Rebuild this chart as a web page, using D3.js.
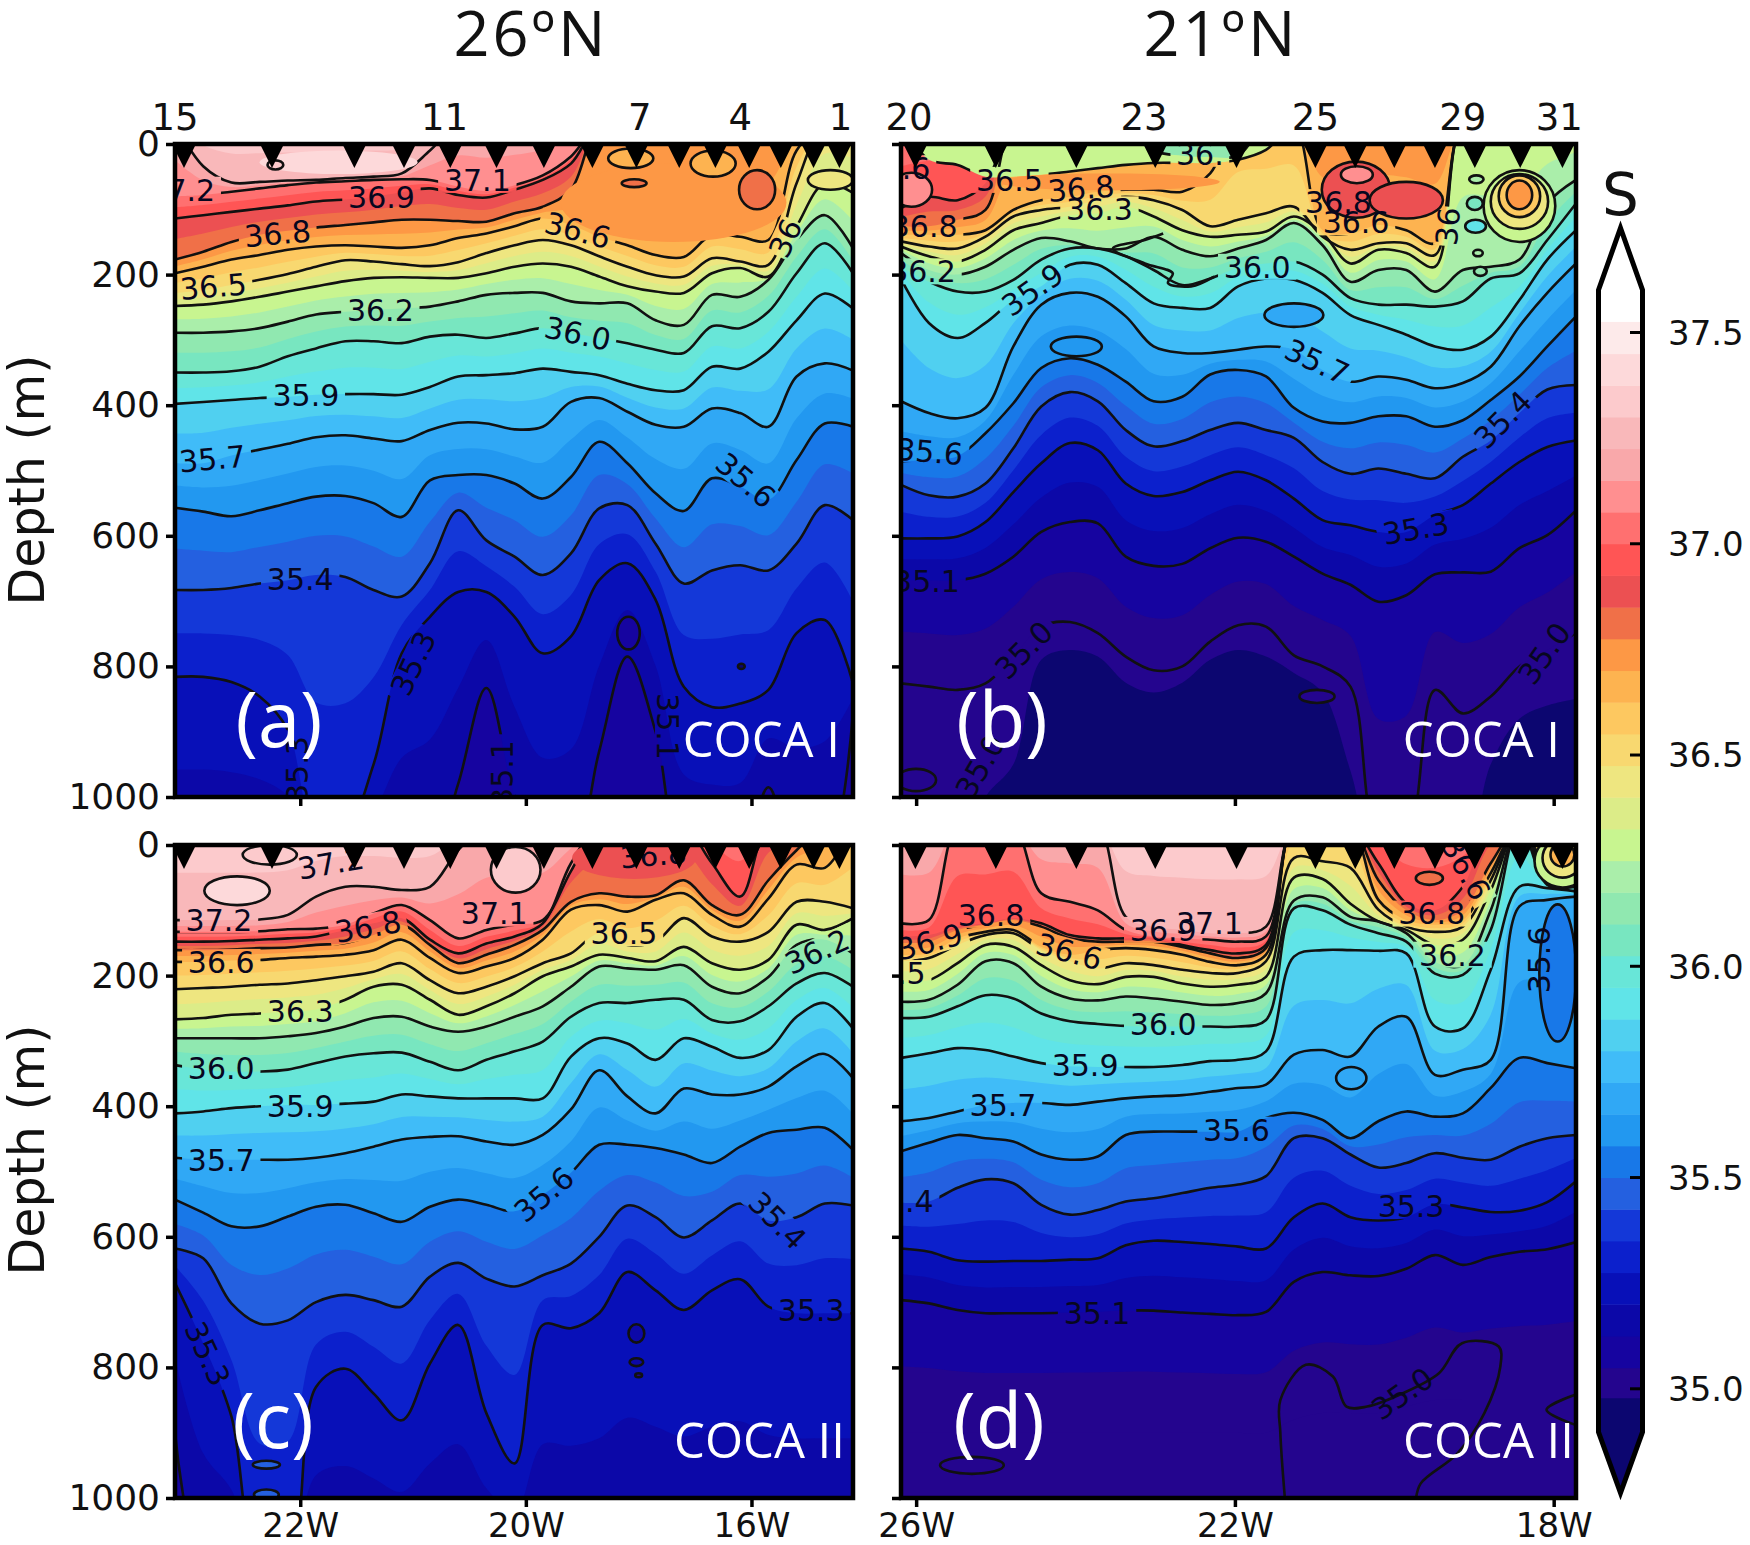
<!DOCTYPE html>
<html>
<head>
<meta charset="utf-8">
<script src="https://cdn.jsdelivr.net/npm/d3@7"></script>
<style>
    html, body { margin: 0; padding: 0; background: #fff; }
    text { font-family: "DejaVu Sans", sans-serif; fill: #111; }
</style>
</head>
<body>
<div id="chart"></div>
<script>
// S = contour has outcropped above the surface, D = contour lies below the section floor
const S = -30;
const D = 1100;

// Colour bands, 0.075 wide, starting below 34.975
const bandColors = ['#0c0670', '#24058e', '#1604a0', '#0c08a8', '#0810b8', '#0c20cc', '#1438d8', '#2460e0',
    '#1878e8', '#2298f0', '#30a8f5', '#40bcf8', '#50d0f0', '#60e4e8', '#68e6d8', '#78e6c0', '#90e8b0', '#aaeeaa',
    '#c8f590', '#dcec88', '#eee680', '#f8d870', '#fdc860', '#fdb350', '#fd9845', '#f07048', '#ec5052', '#ff5555',
    '#ff7070', '#ff8f90', '#f9a8aa', '#f9b8ba', '#fccacc', '#fdd9da', '#fdeaea'];
const bandStart = 34.975;
const bandStep = 0.075;

// Columns of the sections (longitude, negative = W)
const lonsAC = [-23.11, -22.86, -22.61, -22.36, -22.11, -21.86, -21.6, -21.35, -21.1, -20.85, -20.6, -20.35, -20.1,
    -19.85, -19.6, -19.35, -19.1, -18.85, -18.6, -18.35, -18.1, -17.85, -17.6, -17.35, -17.1];
const lonsBD = [-26.19, -25.84, -25.48, -25.13, -24.78, -24.43, -24.07, -23.72, -23.37, -23.02, -22.66, -22.31, -21.96,
    -21.61, -21.26, -20.9, -20.55, -20.2, -19.85, -19.49, -19.14, -18.79, -18.43, -18.08, -17.72];

// Depth of each contour in each column. Rows run 34.975, 35.125 ... 37.225
const depthsA = [
    [1400, 1400, 1400, 1400, 1400, 1400, 1400, 1400, 1400, 1400, 1400, 1400, 1400, 1400, 1400, 1400, 1400, 1400, 1400, 1400, 1400, 1400, 1400, 1400, 1400],
    [D, D, D, D, D, D, D, D, D, D, 980, 833, 1000, D, D, 930, 785, 900, D, D, D, 985, D, D, 870],
    [816, 816, 824, 846, 897, 1050, 1050, 950, 780, 724, 686, 686, 724, 780, 754, 668, 642, 698, 831, 862, 857, 836, 749, 729, 826],
    [683, 683, 680, 673, 668, 660, 663, 683, 693, 642, 561, 607, 632, 660, 627, 558, 553, 612, 673, 653, 645, 653, 612, 553, 576],
    [557, 563, 570, 561, 550, 540, 539, 550, 571, 515, 507, 507, 520, 543, 510, 456, 489, 535, 562, 512, 525, 545, 484, 428, 433],
    [489, 489, 477, 468, 459, 449, 446, 451, 455, 438, 427, 428, 437, 433, 395, 389, 410, 430, 433, 405, 412, 433, 356, 336, 347],
    [398, 395, 392, 389, 387, 384, 383, 383, 384, 372, 356, 354, 351, 344, 349, 354, 367, 377, 377, 341, 344, 318, 270, 229, 252],
    [350, 350, 348, 341, 325, 313, 302, 302, 305, 295, 292, 297, 290, 282, 290, 297, 305, 315, 320, 279, 282, 257, 198, 152, 198],
    [289, 289, 287, 282, 272, 261, 257, 254, 252, 249, 241, 231, 228, 228, 241, 244, 244, 270, 277, 231, 234, 208, 147, 109, 160],
    [248, 246, 241, 234, 226, 218, 210, 205, 204, 205, 205, 198, 188, 183, 188, 203, 218, 226, 228, 198, 190, 203, 126, 60, 75],
    [228, 224, 216, 208, 199, 188, 178, 180, 184, 187, 181, 167, 155, 147, 155, 172, 188, 201, 203, 175, 180, 185, 60, S, S],
    [198, 188, 177, 170, 162, 157, 155, 157, 159, 155, 144, 137, 126, 114, 124, 142, 155, 170, 173, 139, 142, 147, 10, S, S],
    [177, 165, 150, 139, 133, 128, 124, 120, 116, 116, 118, 119, 106, 96, 70, S, S, S, S, S, S, S, S, S, S],
    [114, 109, 104, 99, 94, 88, 85, 81, 74, 68, 78, 82, 70, 55, 30, S, S, S, S, S, S, S, S, S, S],
    [80, 78, 73, 68, 63, 59, 57, 55, 54, 55, 65, 72, 63, 48, 19, S, S, S, S, S, S, S, S, S, S],
    [S, 34, 59, 58, 56, 55, 52, 50, 45, 10, S, S, S, S, S, S, S, S, S, S, S, S, S, S, S]
];
const depthsB = [
    [826, 831, 836, 826, 785, 739, 732, 749, 785, 806, 800, 762, 737, 739, 783, 800, 831, 1060, 1060, 836, 872, 846, 800, 775, 749],
    [668, 668, 668, 658, 632, 594, 579, 581, 632, 646, 643, 619, 603, 609, 632, 658, 675, 701, 691, 659, 656, 655, 619, 599, 561],
    [604, 604, 601, 579, 533, 489, 458, 469, 520, 539, 533, 515, 502, 515, 543, 576, 584, 594, 594, 568, 553, 520, 487, 464, 454],
    [522, 538, 540, 520, 466, 402, 380, 394, 438, 463, 455, 438, 427, 438, 450, 487, 505, 497, 505, 512, 479, 454, 412, 376, 369],
    [486, 483, 478, 443, 397, 343, 328, 338, 364, 394, 387, 353, 346, 356, 404, 425, 427, 417, 417, 433, 423, 392, 356, 310, 264],
    [394, 412, 420, 404, 310, 246, 228, 234, 264, 310, 320, 320, 315, 310, 315, 346, 364, 356, 361, 374, 366, 341, 279, 228, 183],
    [206, 274, 297, 274, 239, 218, 185, 185, 213, 244, 251, 251, 218, 206, 208, 228, 262, 277, 292, 310, 315, 295, 239, 177, 132],
    [188, 211, 226, 226, 208, 177, 160, 160, 172, 193, 216, 206, 190, 183, 180, 200, 236, 246, 246, 249, 241, 206, 198, 147, 91],
    [167, 193, 200, 188, 162, 144, 149, 160, 160, 142, 162, 172, 160, 147, 121, 155, 211, 193, 193, 226, 193, 188, 177, 91, 55],
    [157, 172, 180, 162, 132, 121, 109, 106, 96, 111, 132, 142, 139, 134, 111, 137, 183, 162, 167, 188, S, S, S, S, S],
    [149, 157, 160, 142, 111, 101, 96, 86, 81, 86, 101, 126, 116, 106, 96, 142, 162, 152, 152, 170, S, S, S, S, S],
    [139, 139, 139, 132, 101, 86, 81, 73, 70, 70, 73, 45, S, S, S, 132, 137, 124, 132, 152, S, S, S, S, S],
    [126, 126, 116, 101, S, S, S, S, S, S, S, S, S, S, S, S, S, S, S, S, S, S, S, S, S],
    [98, 81, 86, 60, S, S, S, S, S, S, S, S, S, S, S, S, S, S, S, S, S, S, S, S, S]
];
// Where the darkest colour starts in panel b, well under the 35.0 contour
const floorEdgeB = [D, D, D, 1000, 950, 790, 775, 785, 825, 840, 825, 790, 775, 785, 810, 840, 960, D, D, D, D, 950, 880, 860, 850];
const depthsC = [
    [1400, 1400, 1400, 1400, 1400, 1400, 1400, 1400, 1400, 1400, 1400, 1400, 1400, 1400, 1400, 1400, 1400, 1400, 1400, 1400, 1400, 1400, 1400, 1400, 1400],
    [900, D, D, D, D, D, D, D, D, D, D, D, D, D, D, D, D, D, D, D, D, D, D, D, D],
    [671, 763, 875, D, D, 830, 802, 840, 881, 794, 735, 870, 947, 735, 740, 717, 654, 682, 712, 682, 665, 707, 717, 717, 717],
    [618, 633, 702, 733, 728, 700, 689, 697, 707, 661, 640, 664, 676, 659, 641, 600, 552, 570, 601, 575, 549, 575, 570, 549, 552],
    [543, 563, 584, 584, 569, 554, 551, 564, 577, 554, 543, 551, 561, 536, 502, 459, 459, 464, 474, 487, 462, 441, 436, 433, 467],
    [479, 482, 482, 482, 482, 479, 472, 462, 451, 447, 446, 454, 459, 444, 405, 345, 385, 411, 373, 382, 382, 370, 339, 320, 357],
    [411, 408, 403, 400, 398, 398, 396, 393, 382, 385, 388, 388, 388, 388, 324, 296, 304, 329, 296, 309, 326, 314, 263, 242, 281],
    [337, 344, 347, 347, 344, 334, 324, 319, 318, 332, 345, 329, 316, 301, 263, 242, 242, 237, 237, 268, 270, 247, 212, 196, 217],
    [296, 296, 296, 296, 293, 288, 278, 265, 263, 278, 286, 278, 263, 247, 217, 186, 189, 191, 184, 217, 227, 202, 153, 145, 166],
    [267, 265, 260, 258, 255, 252, 237, 217, 214, 237, 260, 247, 227, 201, 186, 168, 173, 178, 156, 181, 191, 176, 122, 130, 112],
    [221, 219, 217, 214, 212, 207, 201, 194, 181, 207, 227, 217, 201, 181, 166, 135, 153, 148, 112, 140, 148, 133, 87, 87, 97],
    [179, 179, 177, 176, 173, 171, 168, 161, 145, 173, 196, 186, 173, 145, 99, 92, 102, 84, 74, 107, 125, 82, 30, 35, S],
    [161, 161, 160, 158, 157, 153, 150, 138, 122, 153, 181, 168, 153, 130, 87, 74, 79, 77, 54, 92, 107, 54, 8, S, S],
    [148, 148, 147, 145, 143, 140, 130, 120, 112, 145, 166, 151, 140, 120, 28, S, S, S, S, 28, 79, S, S, S, S],
    [133, 133, 133, 132, 129, 128, 122, 105, 92, 115, 143, 130, 122, 115, 40, S, S, S, S, S, S, S, S, S, S],
    [115, 115, 115, 114, 107, 79, 64, 64, 69, 64, 8, S, S, S, S, S, S, S, S, S, S, S, S, S, S]
];
const depthsD = [
    [900, 900, 900, 900, 900, 900, 900, 900, 900, 900, 900, 900, 900, 900, 880, 870, 870, 870, 860, 850, 850, 850, 850, 850, 850],
    [697, 702, 712, 717, 717, 717, 716, 715, 713, 713, 716, 718, 720, 715, 669, 654, 659, 660, 649, 628, 643, 631, 623, 619, 608],
    [618, 623, 636, 638, 637, 637, 635, 633, 613, 606, 608, 611, 615, 618, 570, 549, 570, 575, 570, 550, 555, 562, 560, 547, 515],
    [548, 546, 525, 512, 518, 551, 566, 559, 546, 541, 533, 525, 520, 507, 449, 449, 474, 494, 487, 472, 479, 482, 462, 449, 444],
    [469, 456, 444, 449, 454, 474, 482, 477, 444, 439, 439, 439, 439, 418, 410, 421, 449, 423, 408, 416, 411, 372, 326, 334, 342],
    [423, 418, 408, 398, 395, 395, 398, 393, 388, 385, 383, 378, 372, 367, 321, 314, 324, 278, 263, 352, 344, 329, 94, 84, 79],
    [326, 319, 311, 314, 324, 334, 339, 340, 340, 340, 337, 331, 329, 316, 171, 161, 161, 162, 166, 278, 281, 191, 64, 66, 71],
    [265, 263, 247, 230, 235, 258, 270, 274, 277, 278, 278, 278, 278, 268, 97, 100, 122, 135, 148, 197, 199, 130, S, 61, 64],
    [240, 237, 214, 178, 181, 217, 235, 238, 232, 235, 240, 245, 242, 227, 85, 80, 110, 117, 135, 179, 184, 100, S, 51, 54],
    [209, 207, 181, 153, 156, 184, 207, 213, 202, 202, 212, 217, 214, 202, 50, 52, 90, 117, 130, 153, 145, 69, S, 43, 46],
    [178, 173, 153, 138, 135, 161, 178, 189, 181, 184, 191, 196, 196, 178, 20, 25, 35, 99, 125, 133, 125, 54, S, 33, 38],
    [168, 166, 143, 133, 130, 156, 168, 161, 158, 161, 168, 179, 184, 168, S, S, S, 84, 115, 122, 115, 43, S, S, 28],
    [150, 148, 130, 122, 115, 125, 143, 148, 148, 148, 156, 166, 173, 158, S, S, S, 54, 100, 115, 100, 28, S, S, S],
    [140, 138, 125, 120, 112, 120, 138, 143, 143, 143, 153, 161, 166, 153, S, S, S, 28, 89, 100, 64, S, S, S, S],
    [120, 115, S, S, S, 74, 87, 100, 130, 140, 143, 145, 148, 140, S, S, S, S, S, S, S, S, S, S, S],
    [S, S, S, S, S, S, S, S, 110, 125, 130, 135, 135, 125, S, S, S, S, S, S, S, S, S, S, S]
];

// Fresher surface layers lying over saltier water: [band, depth per column]
const capsB = [
    [18, [S, 24, 32, 50, 50, 47, 42, 37, 32, 29, 29, 29, 24, 9, S, S, S, S, S, S, S, S, S, S, S]],
    [16, [S, S, S, S, S, S, S, S, S, 10, 18, 20, 18, S, S, S, S, S, S, S, S, S, S, S, S]]
];

// Closed features: [lon, depth, half width in degrees, half height in m, band, outlined]
const patchesA = [
    [-18.69, 90, 1.0, 60, 24, 0],
    [-21.66, 28, 0.7, 18, 33, 0], [-22.22, 32, 0.07, 7, 32, 1], [-19.07, 22, 0.2, 15, 23, 1], [-19.04, 60, 0.11, 6, 25, 1],
    [-18.34, 30, 0.2, 20, 23, 1], [-17.95, 70, 0.16, 30, 25, 1], [-17.3, 55, 0.2, 15, 20, 1],
    [-19.09, 749, 0.1, 25, 2, 1], [-18.09, 800, 0.03, 4, 0, 1]
];
const patchesB = [
    [-23.59, 58, 1.4, 13, 24, 0],
    [-20.48, 70, 0.43, 43, 26, 1], [-19.85, 86, 0.46, 28, 26, 1], [-20.47, 47, 0.2, 13, 29, 1], [-26.06, 70, 0.26, 26, 29, 1],
    [-23.99, 310, 0.32, 15, 9, 1], [-21.26, 262, 0.37, 18, 10, 1],
    [-18.43, 95, 0.45, 55, 18, 1], [-18.43, 88, 0.36, 42, 20, 1], [-18.43, 80, 0.26, 32, 22, 1], [-18.43, 78, 0.16, 22, 24, 1],
    [-18.97, 54, 0.09, 6, 17, 1], [-18.99, 91, 0.1, 10, 15, 1], [-18.98, 126, 0.13, 10, 13, 1], [-18.95, 167, 0.06, 5, 17, 1], [-18.92, 195, 0.08, 7, 16, 1],
    [-20.97, 846, 0.22, 10, 1, 1], [-26.0, 974, 0.25, 17, 1, 1]
];
const patchesC = [
    [-19.04, 20, 0.55, 32, 26, 0],
    [-22.56, 70, 0.29, 22, 33, 1], [-22.27, 15, 0.24, 15, 32, 1], [-20.09, 38, 0.22, 35, 32, 1],
    [-19.02, 748, 0.07, 14, 3, 1], [-19.02, 792, 0.06, 6, 3, 1], [-19.0, 812, 0.03, 3, 1, 1],
    [-22.3, 949, 0.12, 6, 7, 1], [-22.3, 995, 0.11, 8, 7, 1]
];
const patchesD = [
    [-19.56, 51, 0.17, 10, 25, 1], [-20.54, 357, 0.19, 17, 10, 1], [-17.95, 196, 0.23, 105, 8, 1], [-25.3, 950, 0.4, 13, 1, 1],
    [-17.89, 25, 0.35, 40, 18, 1], [-17.89, 20, 0.25, 30, 20, 1], [-17.89, 15, 0.15, 18, 23, 1]
];

// Contour pieces that fold back on themselves and so cannot be a depth per column: [lon, depth]
const extraLinesB = [
    [[-22.9, 137], [-23.13, 147], [-23.53, 160], [-23.13, 183], [-22.78, 198], [-22.84, 213], [-22.55, 218], [-22.26, 203]]
];
const extraLinesD = [
    [[-21.37, 1005], [-21.43, 900], [-21.43, 850], [-21.11, 796], [-20.77, 814], [-20.6, 860], [-20.34, 860], [-19.9, 840], [-19.44, 809], [-19.15, 763],
        [-18.69, 768], [-18.67, 799], [-18.87, 870], [-19.21, 932], [-19.67, 978], [-19.73, 1005]],
    [[-17.73, 842], [-18.09, 865], [-17.73, 888]]
];

// Contour labels: [lon, depth, text, angle]
const labelsA = [
    [-20.43, 55, '37.1', 0], [-21.28, 81, '36.9', 0], [-22.2, 137, '36.8', -5], [-19.54, 132, '36.6', 15], [-22.77, 218, '36.5', -5],
    [-21.29, 254, '36.2', 0], [-19.54, 290, '36.0', 12], [-21.95, 384, '35.9', 0], [-22.78, 482, '35.7', -5], [-18.05, 515, '35.6', 40],
    [-22.0, 667, '35.4', 0], [-21.0, 795, '35.3', -65], [-18.74, 892, '35.1', 90], [-20.21, 964, '35.1', -90], [-22.03, 958, '35.3', -90],
    [-17.7, 144, '36', -65], [-23.05, 70, '37.2', 0]
];
const labelsB = [
    [-26.24, 37, '36.6', 0], [-24.83, 55, '36.5', 0], [-23.93, 68, '36.8', -5], [-23.7, 100, '36.3', 0], [-22.44, 15, '36.', 0],
    [-25.9, 126, '36.8', 0], [-25.92, 195, '36.2', 0], [-24.54, 223, '35.9', -35], [-21.72, 188, '36.0', 0], [-20.7, 89, '36.8', 0],
    [-20.48, 120, '36.6', 0], [-19.33, 126, '36', -85], [-20.97, 333, '35.7', 25], [-18.64, 422, '35.4', -45], [-25.83, 471, '35.6', 5],
    [-19.73, 589, '35.3', -10], [-25.87, 670, '35.1', 0], [-24.65, 775, '35.0', -45], [-18.12, 780, '35.0', -55], [-25.2, 953, '35.0', -60]
];
const labelsC = [
    [-21.73, 28, '37.2', -10], [-18.87, 15, '36.8', -5], [-22.72, 115, '37.2', 0], [-21.4, 125, '36.8', -10], [-20.28, 105, '37.1', 0],
    [-22.7, 179, '36.6', 0], [-19.13, 135, '36.5', 0], [-17.42, 163, '36.2', -25], [-22.0, 255, '36.3', 0], [-22.7, 342, '36.0', 0],
    [-22.0, 400, '35.9', 0], [-22.7, 482, '35.7', 0], [-19.84, 535, '35.6', -40], [-17.77, 575, '35.4', 45], [-17.47, 712, '35.3', 0],
    [-22.82, 779, '35.3', 65]
];
const labelsD = [
    [-25.83, 148, '36.9', -15], [-25.06, 107, '36.8', 0], [-24.08, 163, '36.6', 15], [-22.9, 130, '36.9', 0], [-22.32, 120, '37.1', 0],
    [-26.3, 196, '36.5', 0], [-22.9, 275, '36.0', 0], [-23.88, 337, '35.9', 0], [-24.91, 398, '35.7', 0], [-21.98, 436, '35.6', 0],
    [-26.2, 546, '35.4', 0], [-19.79, 553, '35.3', 0], [-23.73, 717, '35.1', 0], [-19.9, 840, '35.0', -35], [-19.27, 168, '36.2', 0],
    [-18.18, 176, '35.6', -90], [-19.53, 105, '36.8', 0], [-19.1, 36, '36.6', 60]
];

// CTD stations (triangles along the top)
const stationsAC = [-23.03, -22.25, -21.52, -21.08, -20.67, -20.26, -19.84, -19.41, -19.02, -18.64, -18.32, -18.02, -17.74, -17.45, -17.22];
const stationsBD = [-26.01, -25.0, -23.99, -23.0, -21.98, -20.99, -20.49, -20.0, -19.49, -18.99, -18.42, -17.89];

// Station numbers printed above the top row
const topNumbersA = [[-23.11, '15'], [-20.72, '11'], [-18.99, '7'], [-18.1, '4'], [-17.21, '1']];
const topNumbersB = [[-26.09, '20'], [-23.14, '23'], [-20.99, '25'], [-19.14, '29'], [-17.93, '31']];

const depthTicks = [0, 200, 400, 600, 800, 1000];
const lonTicksAC = [-22, -20, -18];
const lonLabelsAC = ['22W', '20W', '16W'];
const lonTicksBD = [-26, -22, -18];
const lonLabelsBD = ['26W', '22W', '18W'];
const colorbarTicks = [35.0, 35.5, 36.0, 36.5, 37.0, 37.5];

const svg = d3.select("#chart").append("svg")
    .attr("width", 1750)
    .attr("height", 1545);

const curve = d3.curveCatmullRom.alpha(0.5);
const contourWidth = 2.6;

function drawPanel(p) {
    const x = d3.scaleLinear().domain(p.lonDomain).range([p.left, p.right]);
    const y = d3.scaleLinear().domain([0, 1000]).range([p.top, p.top + 653]);
    const rowCount = p.depths.length;

    const clip = "clip-" + p.name;
    svg.append("clipPath").attr("id", clip).append("rect")
        .attr("x", p.left).attr("y", p.top)
        .attr("width", p.right - p.left).attr("height", 653);

    const g = svg.append("g").attr("clip-path", `url(#${clip})`);

    g.append("rect")
        .attr("x", p.left).attr("y", p.top)
        .attr("width", p.right - p.left).attr("height", 653)
        .attr("fill", bandColors[p.floorBand]);

    // Paint from the deepest band up. Every second colour edge falls midway between two contours.
    const depthAt = (i, k) => i < rowCount ? p.depths[i][k] : S;
    const area = d3.area()
        .x((d, k) => x(p.lons[k]))
        .y0(y(-60))
        .y1(d => y(d))
        .curve(curve);

    if (p.floorEdge) {
        g.append("path").attr("d", area(p.floorEdge)).attr("fill", bandColors[1]);
    }

    d3.range(rowCount).forEach(i => {
        const row = p.lons.map((lon, k) => depthAt(i, k));
        const mid = p.lons.map((lon, k) => (depthAt(i, k) + depthAt(i + 1, k)) / 2);
        g.append("path").attr("d", area(row)).attr("fill", bandColors[2 * i + 1]);
        g.append("path").attr("d", area(mid)).attr("fill", bandColors[2 * i + 2]);
    });

    const line = d3.line()
        .x((d, k) => x(p.lons[k]))
        .y(d => y(d))
        .curve(curve);

    // Contour lines break under their labels
    const maskId = "mask-" + p.name;
    const mask = svg.append("mask").attr("id", maskId)
        .attr("maskUnits", "userSpaceOnUse")
        .attr("x", 0).attr("y", 0).attr("width", 1750).attr("height", 1545);
    mask.append("rect").attr("width", 1750).attr("height", 1545).attr("fill", "white");
    mask.selectAll("rect.gap")
        .data(p.labels)
        .enter().append("rect")
        .attr("class", "gap")
        .attr("x", d => -d[2].length * 9.8)
        .attr("y", -13)
        .attr("width", d => d[2].length * 19.6)
        .attr("height", 26)
        .attr("transform", d => `translate(${x(d[0])},${y(d[1])}) rotate(${d[3]})`)
        .attr("fill", "black");

    const lines = g.append("g").attr("mask", `url(#${maskId})`);
    d3.range(p.firstStroked, rowCount).forEach(i => {
        lines.append("path")
            .attr("d", line(p.depths[i]))
            .attr("fill", "none")
            .attr("stroke", "#111")
            .attr("stroke-width", contourWidth);
    });

    (p.caps || []).forEach(c => {
        g.append("path").attr("d", area(c[1])).attr("fill", bandColors[c[0]]);
        lines.append("path").attr("d", line(c[1]))
            .attr("fill", "none").attr("stroke", "#111").attr("stroke-width", contourWidth);
    });

    // The masked group has to sit over the caps as well
    lines.raise();

    g.selectAll("ellipse")
        .data(p.patches)
        .enter().append("ellipse")
        .attr("cx", d => x(d[0]))
        .attr("cy", d => y(d[1]))
        .attr("rx", d => x(d[0] + d[2]) - x(d[0]))
        .attr("ry", d => y(d[1] + d[3]) - y(d[1]))
        .attr("fill", d => bandColors[d[4]])
        .attr("stroke", d => d[5] ? "#111" : "none")
        .attr("stroke-width", contourWidth);

    const free = d3.line().x(d => x(d[0])).y(d => y(d[1])).curve(curve);
    (p.extraLines || []).forEach(pts => {
        g.append("path").attr("d", free(pts))
            .attr("fill", "none").attr("stroke", "#111").attr("stroke-width", contourWidth);
    });

    g.selectAll("text.contour")
        .data(p.labels)
        .enter().append("text")
        .attr("class", "contour")
        .attr("transform", d => `translate(${x(d[0])},${y(d[1])}) rotate(${d[3]})`)
        .attr("text-anchor", "middle")
        .attr("dy", "0.36em")
        .attr("font-size", 30)
        .style("fill", "#07071f")
        .text(d => d[2]);

    // Station triangles
    g.selectAll("path.station")
        .data(p.stations)
        .enter().append("path")
        .attr("class", "station")
        .attr("d", "M-12,0L12,0L0,24Z")
        .attr("transform", d => `translate(${x(d)},${p.top})`)
        .attr("fill", "black");

    // Panel letter and cruise name
    svg.append("text")
        .attr("x", p.letterX).attr("y", p.top + 603)
        .attr("text-anchor", "middle")
        .attr("font-size", 76)
        .style("font-family", "'Open Sans', sans-serif")
        .style("fill", "white")
        .text(p.letter);
    svg.append("text")
        .attr("x", p.cruiseEnd).attr("y", p.top + 613)
        .attr("text-anchor", "end")
        .attr("font-size", 49)
        .style("font-family", "'Open Sans', sans-serif")
        .style("fill", "white")
        .text(p.cruise);

    // Frame and axes
    svg.append("rect")
        .attr("x", p.left).attr("y", p.top)
        .attr("width", p.right - p.left).attr("height", 653)
        .attr("fill", "none").attr("stroke", "black").attr("stroke-width", 4.5);

    const yAxis = d3.axisLeft(y).tickValues(depthTicks).tickSize(9).tickPadding(6)
        .tickFormat(p.depthLabels ? d3.format("d") : "");
    const yg = svg.append("g").attr("transform", `translate(${p.left},0)`).call(yAxis);
    yg.select(".domain").remove();
    yg.selectAll("line").attr("stroke", "black").attr("stroke-width", 3.5);
    yg.selectAll("text").attr("font-size", 36).style("font-family", "'DejaVu Sans', sans-serif");

    const xAxis = d3.axisBottom(x).tickValues(p.lonTicks).tickSize(9).tickPadding(6)
        .tickFormat((d, i) => p.lonLabels ? p.lonLabels[i] : "");
    const xg = svg.append("g").attr("transform", `translate(0,${p.top + 653})`).call(xAxis);
    xg.select(".domain").remove();
    xg.selectAll("line").attr("stroke", "black").attr("stroke-width", 3.5);
    xg.selectAll("text").attr("font-size", 34).style("font-family", "'DejaVu Sans', sans-serif");

    if (p.topNumbers) {
        svg.selectAll(null)
            .data(p.topNumbers)
            .enter().append("text")
            .attr("x", d => x(d[0]))
            .attr("y", 130)
            .attr("text-anchor", "middle")
            .attr("font-size", 37)
            .text(d => d[1]);
    }
}

const domainAC = [-23.11, -17.1];
const domainBD = [-26.19, -17.72];

drawPanel({ name: "a", lons: lonsAC, depths: depthsA, patches: patchesA, labels: labelsA, stations: stationsAC,
    lonDomain: domainAC, lonTicks: lonTicksAC, left: 175, right: 853, top: 144, depthLabels: true, topNumbers: topNumbersA,
    letter: "(a)", letterX: 279, cruise: "COCA I", cruiseEnd: 840, floorBand: 0, firstStroked: 0 });
drawPanel({ name: "b", lons: lonsBD, depths: depthsB, floorEdge: floorEdgeB, caps: capsB, patches: patchesB, extraLines: extraLinesB,
    labels: labelsB, stations: stationsBD,
    lonDomain: domainBD, lonTicks: lonTicksBD, left: 901, right: 1576, top: 144, depthLabels: false, topNumbers: topNumbersB,
    letter: "(b)", letterX: 1002, cruise: "COCA I", cruiseEnd: 1560, floorBand: 0, firstStroked: 0 });
drawPanel({ name: "c", lons: lonsAC, depths: depthsC, patches: patchesC, labels: labelsC, stations: stationsAC,
    lonDomain: domainAC, lonTicks: lonTicksAC, lonLabels: lonLabelsAC, left: 175, right: 853, top: 845, depthLabels: true,
    letter: "(c)", letterX: 273, cruise: "COCA II", cruiseEnd: 845, floorBand: 0, firstStroked: 0 });
drawPanel({ name: "d", lons: lonsBD, depths: depthsD, patches: patchesD, extraLines: extraLinesD, labels: labelsD, stations: stationsBD,
    lonDomain: domainBD, lonTicks: lonTicksBD, lonLabels: lonLabelsBD, left: 901, right: 1576, top: 845, depthLabels: false,
    letter: "(d)", letterX: 999, cruise: "COCA II", cruiseEnd: 1574, floorBand: 1, firstStroked: 1 });

// Titles and shared axis labels
[[531, "26ºN"], [1221, "21ºN"]].forEach(t => {
    svg.append("text").attr("x", t[0]).attr("y", 56)
        .attr("text-anchor", "middle").attr("font-size", 63)
        .attr("letter-spacing", 3)
        .style("font-family", "'Open Sans', sans-serif")
        .text(t[1]);
});
[480, 1150].forEach(cy => {
    svg.append("text")
        .attr("transform", `translate(44,${cy}) rotate(-90)`)
        .attr("text-anchor", "middle").attr("font-size", 49)
        .text("Depth (m)");
});

// Colour bar
const barY = d3.scaleLinear().domain([35, 37.5]).range([1388.8, 332.5]);
const barLeft = 1598.5;
const barRight = 1642.5;
const barMid = (barLeft + barRight) / 2;

svg.selectAll("rect.band")
    .data(bandColors.slice(1))
    .enter().append("rect")
    .attr("class", "band")
    .attr("x", barLeft).attr("width", barRight - barLeft)
    .attr("y", (d, i) => barY(bandStart + (i + 1) * bandStep))
    .attr("height", barY(bandStart) - barY(bandStart + bandStep) + 0.5)
    .attr("fill", d => d);

svg.append("path")
    .attr("d", `M${barLeft},${barY(bandStart) - 1}L${barRight},${barY(bandStart) - 1}L${barRight},1432L${barMid},1493L${barLeft},1432Z`)
    .attr("fill", bandColors[0]);

svg.append("path")
    .attr("d", `M${barLeft},290L${barMid},228L${barRight},290L${barRight},1432L${barMid},1493L${barLeft},1432Z`)
    .attr("fill", "none").attr("stroke", "black").attr("stroke-width", 5).attr("stroke-linejoin", "miter");

svg.selectAll("line.barTick")
    .data(colorbarTicks)
    .enter().append("line")
    .attr("class", "barTick")
    .attr("x1", 1630).attr("x2", barRight)
    .attr("y1", d => barY(d)).attr("y2", d => barY(d))
    .attr("stroke", "black").attr("stroke-width", 3);

svg.selectAll("text.barLabel")
    .data(colorbarTicks)
    .enter().append("text")
    .attr("class", "barLabel")
    .attr("x", 1668)
    .attr("y", d => barY(d))
    .attr("dy", "0.36em")
    .attr("font-size", 34)
    .text(d => d.toFixed(1));

svg.append("text")
    .attr("x", barMid).attr("y", 215)
    .attr("text-anchor", "middle").attr("font-size", 58)
    .text("S");
</script>
</body>
</html>
